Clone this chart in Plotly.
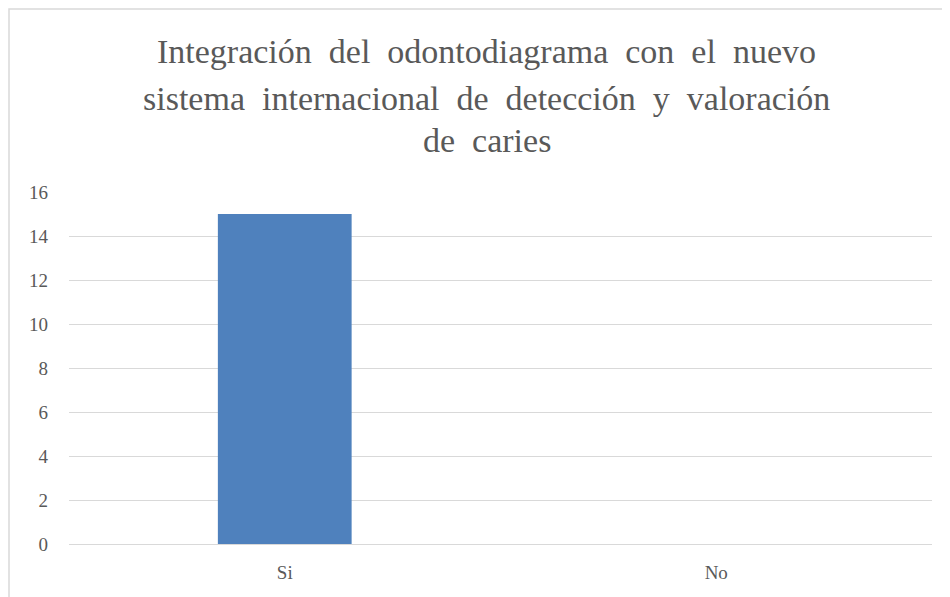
import plotly.graph_objects as go

categorias = ["Si", "No"]
valores = [15, 0]
ticks_y = [0, 2, 4, 6, 8, 10, 12, 14, 16]

lineas_titulo = [
    "Integración  del  odontodiagrama  con  el  nuevo",
    "sistema  internacional  de  detección  y  valoración",
    "de  caries",
]
y_titulo = [1.398, 1.267, 1.145]

serif = "Liberation Serif"
gris = "#595959"

fig = go.Figure()
fig.add_trace(go.Bar(
    x=categorias,
    y=valores,
    width=0.31,
    marker=dict(color="#4F81BD", line=dict(width=0)),
))

for texto, yy in zip(lineas_titulo, y_titulo):
    fig.add_annotation(
        text=texto,
        x=0.484, xref="paper", xanchor="center",
        y=yy, yref="paper", yanchor="middle",
        showarrow=False,
        font=dict(family=serif, size=34, color=gris),
    )

fig.update_layout(
    width=950,
    height=597,
    paper_bgcolor="white",
    plot_bgcolor="white",
    margin=dict(l=61, r=26, t=184, b=61),
    showlegend=False,
    xaxis=dict(
        showgrid=False,
        showline=False,
        ticks="",
        ticklabelstandoff=15,
        tickfont=dict(family=serif, size=19, color=gris),
    ),
    yaxis=dict(
        range=[0, 16],
        tickvals=ticks_y,
        showgrid=True,
        gridcolor="#D9D9D9",
        gridwidth=1,
        zeroline=True,
        zerolinecolor="#D9D9D9",
        zerolinewidth=1,
        showline=False,
        ticks="",
        ticklabelstandoff=20,
        tickfont=dict(family=serif, size=19, color=gris),
    ),
    shapes=[dict(
        type="rect", xref="paper", yref="paper",
        x0=-60 / 863, x1=1.1, y0=-0.3, y1=1 + 183 / 352,
        line=dict(color="#D9D9D9", width=1.5),
        fillcolor="rgba(0,0,0,0)",
        layer="below",
    )],
)

fig.write_html("out.html")
